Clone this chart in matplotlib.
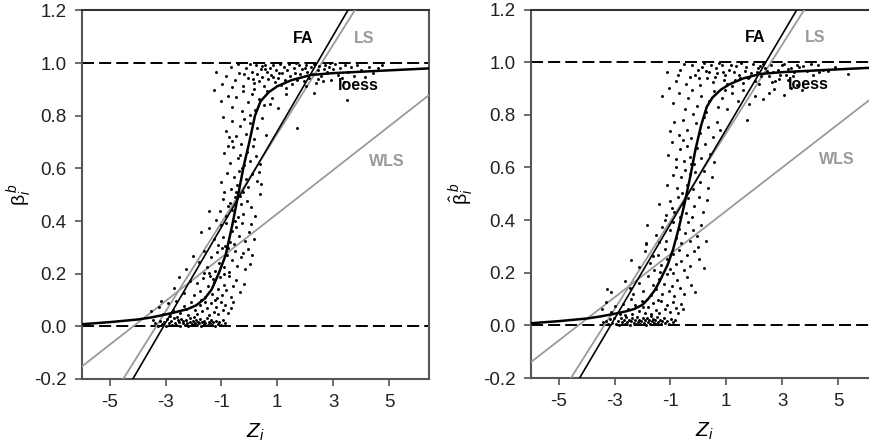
import matplotlib
matplotlib.use("Agg")
import matplotlib.pyplot as plt

plt.rcParams['font.family'] = ['Liberation Sans', 'DejaVu Sans']
plt.rcParams['mathtext.fontset'] = 'custom'
plt.rcParams['mathtext.rm'] = 'Liberation Sans'
plt.rcParams['mathtext.it'] = 'Liberation Sans:italic'
plt.rcParams['mathtext.bf'] = 'Liberation Sans:bold'
plt.rcParams['axes.unicode_minus'] = False

# ---------------- data ----------------
x_ticks = [-5, -3, -1, 1, 3, 5]
y_ticks = [-0.2, 0.0, 0.2, 0.4, 0.6, 0.8, 1.0, 1.2]
x_range = (-6.0, 6.43)
y_range = (-0.2, 1.2)
ref_levels = [0.0, 1.0]

# fitted straight lines: (intercept, slope)
fa_left = (0.559, 0.182)
ls_left = (0.563, 0.169)
wls_left = (0.345, 0.083)
fa_right = (0.565, 0.180)
ls_right = (0.564, 0.1675)
wls_right = (0.353, 0.0822)

loess_left_x = [-6.0, -5.0, -4.0, -3.5, -3.0, -2.6, -2.2, -1.9, -1.6, -1.35, -1.1, -0.85,
                -0.6, -0.4, -0.2, 0.0, 0.2, 0.4, 0.7, 1.0, 1.5, 2.2, 3.0, 4.5, 6.43]
loess_left_y = [0.008, 0.016, 0.026, 0.034, 0.045, 0.055, 0.066, 0.08, 0.105, 0.14, 0.2, 0.27,
                0.39, 0.5, 0.61, 0.7, 0.80, 0.855, 0.89, 0.912, 0.935, 0.955, 0.962, 0.97, 0.98]

loess_right_x = [-6.0, -5.0, -4.0, -3.5, -3.0, -2.6, -2.3, -2.0, -1.8, -1.55, -1.35, -1.1, -0.9,
                 -0.7, -0.5, -0.3, -0.1, 0.1, 0.3, 0.5, 0.8, 1.1, 1.6, 2.2, 3.0, 4.5, 6.43]
loess_right_y = [0.008, 0.016, 0.026, 0.034, 0.044, 0.053, 0.062, 0.078, 0.1, 0.135, 0.175, 0.23,
                 0.29, 0.37, 0.46, 0.56, 0.67, 0.76, 0.83, 0.865, 0.895, 0.915, 0.938, 0.955,
                 0.962, 0.97, 0.98]

points_left = [
    (-3.37,0.012),(-3.28,0.003),(-3.21,0.021),(-3.13,0.008),(-3.06,0.017),(-2.98,0.002),(-2.93,0.027),
    (-2.87,0.011),(-2.81,0.019),(-2.76,0.004),(-2.71,0.031),(-2.66,0.013),(-2.62,0.007),(-2.57,0.023),
    (-2.53,0.015),(-2.48,0.003),(-2.44,0.028),(-2.39,0.011),(-2.36,0.019),(-2.31,0.006),(-2.27,0.024),
    (-2.23,0.013),(-2.18,0.002),(-2.14,0.018),(-2.11,0.033),(-2.07,0.009),(-2.03,0.021),(-1.98,0.004),
    (-1.94,0.014),(-1.91,0.026),(-1.87,0.007),(-1.83,0.017),(-1.79,0.011),(-1.76,0.029),(-1.72,0.003),
    (-1.68,0.016),(-1.64,0.022),(-1.61,0.008),(-1.57,0.013),(-1.53,0.031),(-1.49,0.005),(-1.46,0.018),
    (-1.42,0.011),(-1.38,0.024),(-1.33,0.007),(-1.29,0.015),(-1.24,0.003),(-1.19,0.021),(-1.13,0.009),
    (-1.08,0.017),(-1.02,0.005),(-0.96,0.026),(-0.88,0.012),(-2.59,0.037),(-1.97,0.036),(-3.46,0.024),
    (-3.52,0.058),(-3.24,0.073),(-3.09,0.047),(-2.91,0.088),(-2.74,0.063),(-2.61,0.097),(-2.47,0.052),
    (-2.33,0.078),(-2.19,0.044),(-2.08,0.091),(-1.96,0.061),(-1.86,0.048),(-1.78,0.083),(-1.69,0.057),
    (-1.58,0.094),(-1.51,0.068),(-1.43,0.042),(-1.36,0.087),(-1.27,0.054),(-1.18,0.072),(-1.11,0.046),
    (-1.03,0.093),(-0.94,0.062),(-0.86,0.081),(-0.77,0.049),(-0.67,0.071),(-0.58,0.092),(-1.22,0.099),
    (-1.73,0.102),(-2.26,0.066),(-2.84,0.041),(-3.17,0.096),
    (-2.52,0.187),(-2.34,0.128),(-2.13,0.171),(-1.99,0.118),(-1.88,0.163),(-1.77,0.134),(-1.66,0.182),
    (-1.57,0.113),(-1.48,0.152),(-1.41,0.193),(-1.34,0.124),(-1.26,0.167),(-1.17,0.108),(-1.12,0.143),
    (-1.04,0.186),(-0.97,0.121),(-0.91,0.158),(-0.82,0.137),(-0.73,0.191),(-0.64,0.112),(-0.57,0.154),
    (-0.46,0.177),(-0.33,0.129),(-0.18,0.161),(-1.62,0.203),(-0.92,0.198),(-2.71,0.147),(-1.31,0.181),
    (-2.28,0.218),(-2.02,0.268),(-1.79,0.243),(-1.63,0.287),(-1.52,0.224),(-1.37,0.262),(-1.23,0.212),
    (-1.16,0.281),(-1.07,0.239),(-0.98,0.297),(-0.89,0.226),(-0.81,0.271),(-0.72,0.208),(-0.61,0.252),
    (-0.52,0.288),(-0.43,0.231),(-0.31,0.263),(-0.14,0.217),(0.11,0.272),(-0.04,0.294),(0.04,0.236),
    (-0.76,0.298),(-1.44,0.203),(-0.24,0.279),
    (-1.72,0.357),(-1.44,0.372),(-1.28,0.331),(-1.12,0.309),(-1.01,0.384),(-0.93,0.338),(-0.83,0.393),
    (-0.71,0.321),(-0.63,0.362),(-0.54,0.314),(-0.47,0.378),(-0.37,0.342),(-0.26,0.391),(-0.16,0.324),
    (-0.02,0.359),(0.18,0.333),(-1.19,0.403),(-0.52,0.402),(-0.87,0.307),(0.07,0.388),
    (-1.46,0.44),(-1.06,0.437),(-0.96,0.482),(-0.84,0.421),(-0.69,0.468),(-0.62,0.443),(-0.51,0.491),
    (-0.41,0.414),(-0.29,0.463),(-0.21,0.428),(-0.08,0.477),(0.06,0.452),(0.19,0.418),(0.39,0.503),
    (-0.34,0.497),(-0.78,0.456),(0.41,0.54),
    (-1.02,0.548),(-0.79,0.583),(-0.66,0.522),(-0.56,0.567),(-0.44,0.538),(-0.36,0.592),(-0.23,0.512),
    (-0.13,0.561),(-0.06,0.531),(0.09,0.578),(0.26,0.552),(-0.91,0.509),(0.34,0.587),(-0.28,0.603),
    (-0.48,0.512),
    (-0.92,0.657),(-0.71,0.621),(-0.57,0.683),(-0.42,0.638),(-0.31,0.692),(-0.19,0.614),(-0.09,0.661),
    (0.02,0.628),(0.12,0.687),(0.24,0.649),(0.38,0.618),(-0.62,0.703),(-0.77,0.686),(-0.34,0.652),
    (-0.82,0.742),(-0.61,0.781),(-0.47,0.722),(-0.32,0.763),(-0.18,0.788),(-0.11,0.731),(0.04,0.772),
    (0.16,0.713),(0.29,0.753),(0.46,0.791),(0.58,0.728),(1.7,0.752),(-0.93,0.797),(0.01,0.803),
    (-0.74,0.718),
    (-0.62,0.832),(-0.47,0.871),(-0.28,0.818),(-0.21,0.893),(-0.06,0.852),(0.08,0.884),(0.22,0.823),
    (0.36,0.862),(0.51,0.841),(0.63,0.893),(0.82,0.868),(1.03,0.829),(1.32,0.881),(3.5,0.86),
    (2.31,0.888),(-0.76,0.877),(-1.03,0.858),(-1.28,0.897),(0.17,0.902),(0.74,0.846),
    (-1.21,0.968),(-0.97,0.921),(-0.83,0.952),(-0.67,0.987),(-0.53,0.934),(-0.42,0.998),(-0.36,0.962),
    (-0.22,0.913),(-0.12,0.983),(-0.04,0.944),(0.03,0.996),(0.09,0.968),(0.17,0.924),(0.23,0.991),
    (0.28,0.957),(0.34,0.931),(0.41,0.979),(0.47,0.948),(0.52,0.912),(0.57,0.994),(0.62,0.967),
    (0.68,0.938),(0.73,0.983),(0.79,0.956),(0.84,0.991),(0.91,0.927),(0.97,0.972),(1.02,0.945),
    (1.08,0.997),(1.13,0.918),(1.18,0.961),(1.24,0.986),(1.29,0.934),(1.36,0.972),(1.42,0.995),
    (1.47,0.952),(1.53,0.921),(1.59,0.983),(1.64,0.963),(1.71,0.937),(1.77,0.991),(1.83,0.958),
    (1.88,0.978),(1.94,0.931),(2.01,0.994),(2.07,0.966),(2.13,0.942),(2.19,0.987),(2.26,0.959),
    (2.32,0.997),(2.38,0.924),(2.44,0.973),(2.51,0.988),(2.57,0.951),(2.64,0.932),(2.71,0.992),
    (2.78,0.968),(2.86,0.984),(2.93,0.937),(3.01,0.976),(3.08,0.996),(3.16,0.955),(3.24,0.981),
    (3.33,0.943),(3.42,0.991),(3.53,0.968),(3.64,0.985),(3.76,0.952),(3.87,0.993),(3.98,0.972),
    (4.13,0.948),(4.27,0.987),(4.44,0.963),(4.61,0.982),(4.74,0.994),(0.13,0.941),(0.44,0.989),
    (0.86,0.949),(1.31,0.905),(1.66,0.999),(2.04,0.913),(2.47,0.939),(2.89,0.999),(-0.18,0.957),
    (-0.61,0.908),(0.55,0.976),(1.06,0.962),(1.99,0.982),(2.67,0.977),(3.37,0.927),
]

points_right = [
    (-3.31,0.016),(-3.24,0.004),(-3.16,0.024),(-3.08,0.009),(-3.01,0.029),(-2.94,0.006),(-2.88,0.018),
    (-2.83,0.002),(-2.77,0.027),(-2.72,0.012),(-2.67,0.021),(-2.63,0.005),(-2.58,0.031),(-2.54,0.014),
    (-2.49,0.022),(-2.46,0.003),(-2.41,0.017),(-2.37,0.028),(-2.32,0.008),(-2.28,0.019),(-2.24,0.004),
    (-2.2,0.032),(-2.16,0.013),(-2.12,0.021),(-2.08,0.006),(-2.04,0.016),(-1.99,0.027),(-1.95,0.009),
    (-1.92,0.019),(-1.88,0.003),(-1.84,0.029),(-1.8,0.012),(-1.76,0.022),(-1.72,0.006),(-1.67,0.016),
    (-1.63,0.026),(-1.59,0.01),(-1.55,0.019),(-1.51,0.004),(-1.47,0.031),(-1.43,0.013),(-1.38,0.022),
    (-1.34,0.007),(-1.29,0.018),(-1.24,0.027),(-1.18,0.009),(-1.12,0.015),(-1.06,0.004),(-0.99,0.024),
    (-0.91,0.011),(-0.83,0.019),(-2.61,0.038),(-1.69,0.036),(-3.42,0.011),
    (-3.44,0.063),(-3.29,0.088),(-3.12,0.052),(-2.97,0.074),(-2.82,0.044),(-2.68,0.083),(-2.53,0.061),
    (-2.38,0.042),(-2.27,0.079),(-2.14,0.056),(-2.01,0.094),(-1.91,0.048),(-1.82,0.071),(-1.71,0.043),
    (-1.62,0.086),(-1.52,0.058),(-1.41,0.047),(-1.32,0.091),(-1.21,0.063),(-1.13,0.076),(-1.02,0.051),
    (-0.92,0.089),(-0.81,0.066),(-0.72,0.046),(-0.63,0.082),(-1.46,0.098),(-2.42,0.101),(-0.54,0.061),
    (-1.97,0.068),
    (-3.26,0.139),(-3.11,0.128),(-2.62,0.168),(-2.33,0.121),(-2.12,0.162),(-1.97,0.132),(-1.82,0.186),
    (-1.71,0.114),(-1.61,0.153),(-1.52,0.137),(-1.42,0.177),(-1.31,0.118),(-1.22,0.158),(-1.12,0.194),
    (-1.06,0.129),(-0.96,0.148),(-0.86,0.112),(-0.76,0.173),(-0.66,0.141),(-0.51,0.119),(-0.42,0.183),
    (-0.26,0.152),(-1.37,0.204),(-0.91,0.199),(-2.46,0.143),(-0.13,0.128),
    (-2.41,0.247),(-2.12,0.223),(-1.92,0.281),(-1.72,0.238),(-1.57,0.212),(-1.46,0.268),(-1.32,0.229),
    (-1.21,0.291),(-1.11,0.252),(-1.01,0.214),(-0.92,0.271),(-0.81,0.232),(-0.71,0.288),(-0.62,0.243),
    (-0.51,0.209),(-0.41,0.268),(-0.29,0.226),(-0.16,0.283),(0.01,0.251),(0.19,0.219),(-1.86,0.312),
    (-0.03,0.296),(-1.63,0.263),
    (-1.88,0.308),(-1.84,0.381),(-1.51,0.343),(-1.31,0.372),(-1.16,0.322),(-1.02,0.361),(-0.91,0.393),
    (-0.79,0.331),(-0.69,0.368),(-0.61,0.313),(-0.49,0.352),(-0.38,0.394),(-0.31,0.321),(-0.19,0.362),
    (-0.06,0.338),(0.11,0.381),(0.29,0.322),(-1.21,0.402),(-1.42,0.315),
    (-1.41,0.462),(-1.16,0.421),(-1.01,0.473),(-0.86,0.432),(-0.74,0.488),(-0.66,0.412),(-0.54,0.461),
    (-0.46,0.428),(-0.36,0.483),(-0.24,0.411),(-0.14,0.452),(0.01,0.489),(0.16,0.432),(0.31,0.478),
    (-0.59,0.502),(-0.93,0.447),
    (-1.12,0.534),(-0.91,0.571),(-0.76,0.522),(-0.61,0.563),(-0.49,0.591),(-0.41,0.532),(-0.31,0.574),
    (-0.19,0.519),(-0.11,0.583),(0.06,0.543),(0.21,0.588),(0.36,0.521),(-0.81,0.602),(0.49,0.562),
    (-0.27,0.612),
    (-0.95,0.695),(-0.79,0.632),(-0.64,0.671),(-0.51,0.623),(-0.39,0.681),(-0.29,0.641),(-0.16,0.612),
    (-0.06,0.672),(0.11,0.634),(0.24,0.688),(0.41,0.652),(0.56,0.621),(-0.54,0.703),(-1.08,0.648),
    (-0.86,0.771),(-0.69,0.722),(-0.56,0.781),(-0.41,0.742),(-0.26,0.713),(-0.09,0.768),(0.06,0.731),
    (0.21,0.792),(0.34,0.752),(0.51,0.714),(0.66,0.773),(1.74,0.78),(-0.19,0.803),(0.79,0.741),
    (-1.02,0.738),
    (-1.31,0.872),(-0.91,0.843),(-0.71,0.882),(-0.49,0.821),(-0.36,0.862),(-0.21,0.893),(-0.04,0.832),
    (0.11,0.871),(0.26,0.812),(0.39,0.853),(0.56,0.891),(0.71,0.831),(0.86,0.864),(1.01,0.822),
    (1.21,0.883),(1.42,0.851),(1.61,0.894),(2.33,0.86),(3.05,0.874),(2.72,0.897),(3.31,0.902),
    (3.71,0.896),(2.02,0.872),(-1.06,0.903),(1.83,0.841),(2.52,0.881),(3.52,0.912),(0.96,0.895),
    (-1.12,0.962),(-0.81,0.928),(-0.64,0.971),(-0.52,0.993),(-0.43,0.918),(-0.31,0.944),(-0.24,0.988),
    (-0.11,0.953),(-0.02,0.971),(0.06,0.912),(0.14,0.982),(0.21,0.996),(0.31,0.941),(0.39,0.962),
    (0.46,0.989),(0.54,0.923),(0.61,0.944),(0.68,0.958),(0.73,0.997),(0.84,0.988),(0.93,0.931),
    (0.97,0.953),(1.04,0.918),(1.09,0.972),(1.16,0.991),(1.22,0.908),(1.31,0.934),(1.36,0.987),
    (1.44,0.951),(1.51,0.996),(1.58,0.922),(1.66,0.968),(1.72,0.981),(1.81,0.943),(1.87,0.959),
    (1.94,0.992),(2.01,0.928),(2.09,0.962),(2.18,0.918),(2.24,0.947),(2.31,0.994),(2.37,0.978),
    (2.46,0.968),(2.53,0.948),(2.61,0.991),(2.68,0.963),(2.76,0.929),(2.84,0.971),(2.91,0.952),
    (2.99,0.988),(3.07,0.994),(3.14,0.951),(3.22,0.931),(3.31,0.978),(3.43,0.963),(3.52,0.991),
    (3.61,0.982),(3.73,0.987),(3.88,0.968),(4.02,0.992),(4.11,0.951),(4.28,0.988),(4.47,0.972),
    (4.63,0.968),(4.88,0.981),(5.37,0.955),(0.27,0.968),(0.88,0.961),(1.27,0.961),(1.76,0.938),
    (2.22,0.986),(2.63,0.924),(3.19,0.973),(-0.72,0.951),(0.01,0.938),(0.62,0.978),(1.49,0.941),
    (2.13,0.979),(2.87,0.937),(3.37,0.947),(4.32,0.961),
]

label_pos_left = {"FA": (1.94, 1.095), "LS": (4.09, 1.095), "loess": (3.9, 0.915), "WLS": (4.91, 0.625)}
label_pos_right = {"FA": (2.04, 1.095), "LS": (4.19, 1.095), "loess": (3.93, 0.915), "WLS": (4.96, 0.63)}
label_colors = {"FA": "black", "LS": "#9a9a9a", "loess": "black", "WLS": "#9a9a9a"}

ylabels = [r'$\mathrm{\beta}_i^{\,b}$', r'$\hat{\mathrm{\beta}}_i^{\,b}$']
xlabel = r'$Z_i$'

# ---------------- figure ----------------
fig = plt.figure(figsize=(8.69, 4.44), dpi=100)
ax_l = fig.add_axes([0.0940, 0.1464, 0.3997, 0.8300])
ax_r = fig.add_axes([0.6107, 0.1486, 0.3997, 0.8300])

spine_col = '#555555'
GRAY = '#9a9a9a'

panels = [
    (ax_l, points_left, loess_left_x, loess_left_y, fa_left, ls_left, wls_left, label_pos_left, ylabels[0], -0.137),
    (ax_r, points_right, loess_right_x, loess_right_y, fa_right, ls_right, wls_right, label_pos_right, ylabels[1], -0.16),
]

for ax, pts, lx, ly, fa, ls, wls, lpos, ylab, ylab_x in panels:
    ax.set_xlim(*x_range)
    ax.set_ylim(*y_range)
    for lev in ref_levels:
        ax.axhline(lev, color='black', lw=1.4, linestyle=(0, (6.2, 2.6)), zorder=2)
    ax.axline((0, wls[0]), slope=wls[1], color=GRAY, lw=1.3, zorder=3)
    ax.axline((0, ls[0]), slope=ls[1], color=GRAY, lw=1.3, zorder=3)
    ax.axline((0, fa[0]), slope=fa[1], color='black', lw=1.2, zorder=4)
    px = [p[0] for p in pts]
    py = [p[1] for p in pts]
    ax.scatter(px, py, s=4.5, color='black', linewidths=0, zorder=5)
    ax.plot(lx, ly, color='black', lw=1.8, zorder=6, solid_capstyle='round')
    for name, (tx, ty) in lpos.items():
        ax.text(tx, ty, name, color=label_colors[name], fontsize=11.5, fontweight='bold',
                ha='center', va='center', zorder=7)
    ax.set_xticks(x_ticks)
    ax.set_yticks(y_ticks)
    ax.set_yticklabels([f"{v:.1f}" for v in y_ticks])
    ax.set_xticklabels([str(v) for v in x_ticks])
    ax.tick_params(direction='out', length=5, width=1.2, color=spine_col, labelsize=13.5,
                   labelcolor='#222222', pad=6)
    for sp in ax.spines.values():
        sp.set_color(spine_col)
        sp.set_linewidth(1.5)
    ax.spines['top'].set_color('#333333')
    ax.set_ylabel(ylab, fontsize=14)
    ax.yaxis.set_label_coords(ylab_x, 0.5)
    ax.set_xlabel(xlabel, fontsize=15)
    ax.xaxis.set_label_coords(0.5, -0.115)

fig.savefig('out.png', dpi=100)
